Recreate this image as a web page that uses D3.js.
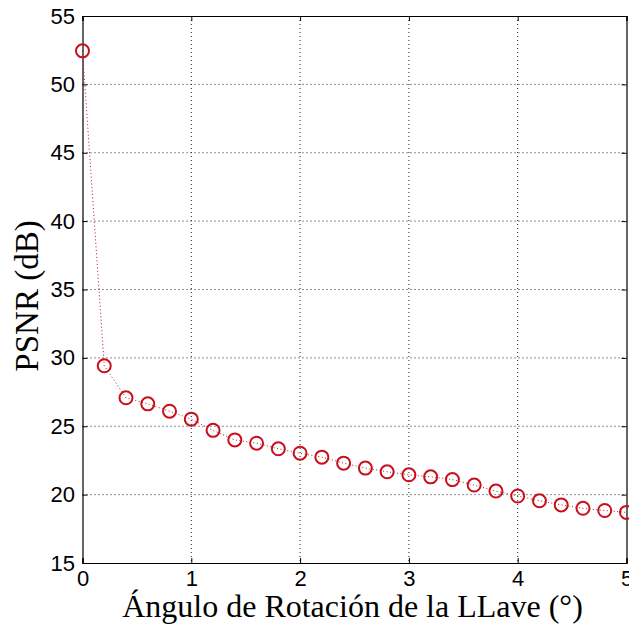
<!DOCTYPE html>
<html>
<head>
<meta charset="utf-8">
<script src="https://cdn.jsdelivr.net/npm/d3@7"></script>
<style>
  body { margin: 0; background: #fff; }
</style>
</head>
<body>
<div id="chart"></div>
<script>
// Data
var angles = [0, 0.2, 0.4, 0.6, 0.8, 1.0, 1.2, 1.4, 1.6, 1.8, 2.0, 2.2, 2.4,
  2.6, 2.8, 3.0, 3.2, 3.4, 3.6, 3.8, 4.0, 4.2, 4.4, 4.6, 4.8, 5.0];
var psnr = [52.45, 29.42, 27.08, 26.64, 26.1, 25.52, 24.7, 24.0, 23.76, 23.35, 23.03,
  22.74, 22.3, 21.94, 21.67, 21.45, 21.3, 21.1, 20.7, 20.26, 19.9, 19.55, 19.25,
  19.0, 18.84, 18.7];
var xTicks = [0, 1, 2, 3, 4, 5];
var yTicks = [15, 20, 25, 30, 35, 40, 45, 50, 55];
var xLabel = "Ángulo de Rotación de la LLave (°)";
var yLabel = "PSNR (dB)";

var svgWidth = 629;
var svgHeight = 629;

var margin = { top: 16, right: 2.5, bottom: 66, left: 82.5 };
var width = svgWidth - margin.left - margin.right;
var height = svgHeight - margin.top - margin.bottom;

var svg = d3.select("#chart")
  .append("svg")
  .attr("width", svgWidth)
  .attr("height", svgHeight);

var chartGroup = svg.append("g")
  .attr("transform", `translate(${margin.left}, ${margin.top})`);

var xScale = d3.scaleLinear().domain([0, 5]).range([0, width]);
var yScale = d3.scaleLinear().domain([15, 55]).range([height, 0]);

// dotted grid
chartGroup.append("g")
  .selectAll("line")
  .data(xTicks.slice(1, -1))
  .enter()
  .append("line")
  .attr("x1", d => xScale(d)).attr("x2", d => xScale(d))
  .attr("y1", 0).attr("y2", height)
  .attr("stroke", "#222")
  .attr("stroke-width", 1)
  .attr("stroke-dasharray", "1,3");

chartGroup.append("g")
  .selectAll("line")
  .data(yTicks.slice(1, -1))
  .enter()
  .append("line")
  .attr("y1", d => yScale(d)).attr("y2", d => yScale(d))
  .attr("x1", 0).attr("x2", width)
  .attr("stroke", "#222")
  .attr("stroke-width", 1)
  .attr("stroke-dasharray", "1,3");

// axes, ticks pointing inward like matlab
var bottomAxis = d3.axisBottom(xScale).tickValues(xTicks).tickSize(-5).tickPadding(7).tickFormat(d3.format("d"));
var leftAxis = d3.axisLeft(yScale).tickValues(yTicks).tickSize(-5).tickPadding(7.5).tickFormat(d3.format("d"));
var topAxis = d3.axisTop(xScale).tickValues(xTicks).tickSize(-5).tickFormat("");
var rightAxis = d3.axisRight(yScale).tickValues(yTicks).tickSize(-5).tickFormat("");

function styleAxis(g) {
  g.select(".domain").attr("stroke", "#000").attr("stroke-width", 1.2);
  g.selectAll(".tick line").attr("stroke", "#000");
  g.selectAll("text")
    .attr("font-family", "Liberation Sans, Arial, sans-serif")
    .attr("font-size", "22px")
    .attr("fill", "#000");
}

chartGroup.append("g")
  .attr("transform", `translate(0, ${height})`)
  .call(bottomAxis)
  .call(styleAxis);

chartGroup.append("g")
  .call(leftAxis)
  .call(styleAxis);

chartGroup.append("g")
  .call(topAxis)
  .call(styleAxis);

chartGroup.append("g")
  .attr("transform", `translate(${width}, 0)`)
  .call(rightAxis)
  .call(styleAxis);

// the series
var pts = angles.map((a, i) => [a, psnr[i]]);

var line = d3.line()
  .x(d => xScale(d[0]))
  .y(d => yScale(d[1]));

chartGroup.append("path")
  .datum(pts)
  .attr("d", line)
  .attr("fill", "none")
  .attr("stroke", "#c0121c")
  .attr("stroke-width", 1)
  .attr("stroke-dasharray", "1,2.5");

chartGroup.selectAll("circle")
  .data(pts)
  .enter()
  .append("circle")
  .attr("cx", d => xScale(d[0]))
  .attr("cy", d => yScale(d[1]))
  .attr("r", 6.5)
  .attr("fill", "none")
  .attr("stroke", "#c8101c")
  .attr("stroke-width", 2);

// axis titles
svg.append("text")
  .attr("x", margin.left + width / 2 - 2)
  .attr("y", 617)
  .attr("text-anchor", "middle")
  .attr("font-family", "Liberation Serif, Times New Roman, serif")
  .attr("font-size", "32px")
  .text(xLabel);

svg.append("text")
  .attr("transform", `translate(38, 296) rotate(-90)`)
  .attr("text-anchor", "middle")
  .attr("font-family", "Liberation Serif, Times New Roman, serif")
  .attr("font-size", "33px")
  .text(yLabel);
</script>
</body>
</html>
